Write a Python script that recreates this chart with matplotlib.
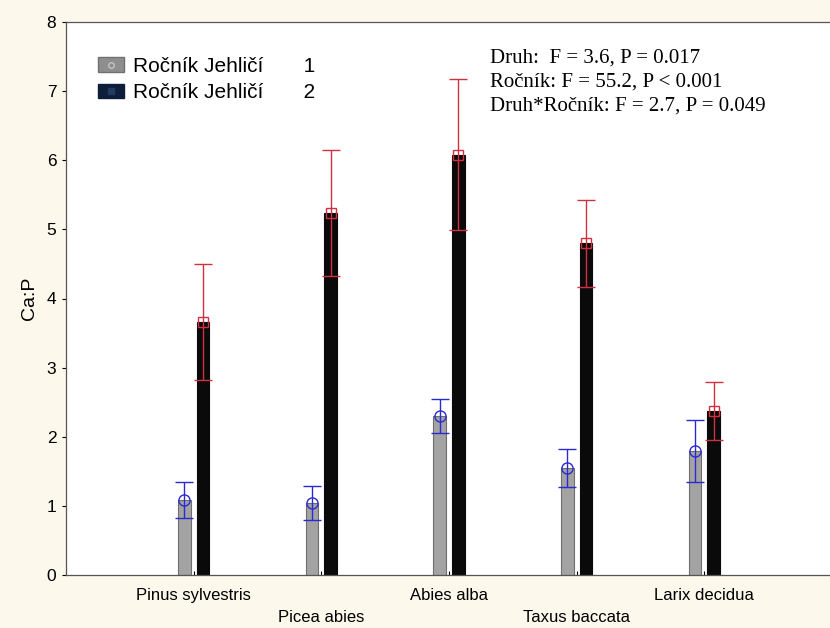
import matplotlib
matplotlib.use("Agg")
import matplotlib.pyplot as plt
import numpy as np
from matplotlib.patches import Patch
from matplotlib.lines import Line2D
from matplotlib.legend_handler import HandlerTuple

species = ["Pinus sylvestris", "Picea abies", "Abies alba", "Taxus baccata", "Larix decidua"]
mean_1 = [1.08, 1.04, 2.30, 1.55, 1.79]
err_1 = [0.26, 0.25, 0.25, 0.27, 0.45]
mean_2 = [3.66, 5.24, 6.08, 4.80, 2.37]
err_2 = [0.84, 0.91, 1.09, 0.63, 0.42]
legend_labels = ["Ročník Jehličí       1", "Ročník Jehličí       2"]
stats_text = ["Druh:  F = 3.6, P = 0.017",
              "Ročník: F = 55.2, P < 0.001",
              "Druh*Ročník: F = 2.7, P = 0.049"]

plt.rcParams['font.family'] = ['Liberation Sans', 'DejaVu Sans']

fig = plt.figure(figsize=(8.30, 6.28), dpi=100)
fig.patch.set_facecolor('#fcf8ec')
ax = fig.add_axes([66/830, 1 - 575/628, (832 - 66)/830, (575 - 22)/628])
ax.set_facecolor('white')

x = np.arange(len(species))
off = 0.074
w = 0.10
ax.bar(x - off, mean_1, width=w, color='#a3a3a3', edgecolor='#6e6e6e', linewidth=0.8, zorder=2)
ax.bar(x + off, mean_2, width=w, color='#0a0a0a', edgecolor='#0a0a0a', linewidth=0.8, zorder=2)
ax.errorbar(x - off, mean_1, yerr=err_1, fmt='o', mfc='none', mec='#2a2ad0', ms=8, mew=1.0,
            ecolor='#2a2ad0', elinewidth=1.0, capsize=6.5, capthick=1.0, zorder=3)
ax.errorbar(x + off, mean_2, yerr=err_2, fmt='s', mfc='none', mec='#d03040', ms=7, mew=1.0,
            ecolor='#d03040', elinewidth=1.0, capsize=6.5, capthick=1.0, zorder=3)

ax.set_xlim(-1, 5)
ax.set_ylim(0, 8)
ax.set_yticks(range(0, 9))
ax.tick_params(axis='y', labelsize=12.5, direction='out', length=3, right=True, pad=4)
ax.set_xticks(x)
ax.set_xticklabels([])
ax.tick_params(axis='x', length=3, direction='in')
for i, s in enumerate(species):
    ax.text(x[i], -0.30 if i % 2 == 0 else -0.62, s, ha='center', va='center', fontsize=12,
            transform=ax.transData, clip_on=False)
ax.set_ylabel("Ca:P", fontsize=14, labelpad=6)
for sp in ax.spines.values():
    sp.set_color('#555555')
    sp.set_linewidth(0.9)

h1 = (Patch(facecolor='#8e8e8e', edgecolor='#707070'),
      Line2D([], [], marker='o', ms=4, mfc='none', mec='#d0d0d0', mew=0.8, ls='none'))
h2 = (Patch(facecolor='#0e1e3a', edgecolor='#0e1e3a'),
      Line2D([], [], marker='s', ms=4, mfc='#203a60', mec='#203a60', ls='none'))
leg = fig.legend([h1, h2], legend_labels, loc='upper left',
                 bbox_to_anchor=(98/830, 1 - 57/628),
                 frameon=False, fontsize=15, handlelength=1.25, handleheight=0.72,
                 handletextpad=0.45, labelspacing=0.35, borderpad=0.0, borderaxespad=0.0,
                 handler_map={tuple: HandlerTuple(ndivide=1)})

fig.text(490/830, 1 - 49/628, "\n".join(stats_text), ha='left', va='top',
         fontsize=15, family=['Liberation Serif', 'DejaVu Serif'], linespacing=1.35)

fig.savefig("out.png", dpi=100, facecolor=fig.get_facecolor())
